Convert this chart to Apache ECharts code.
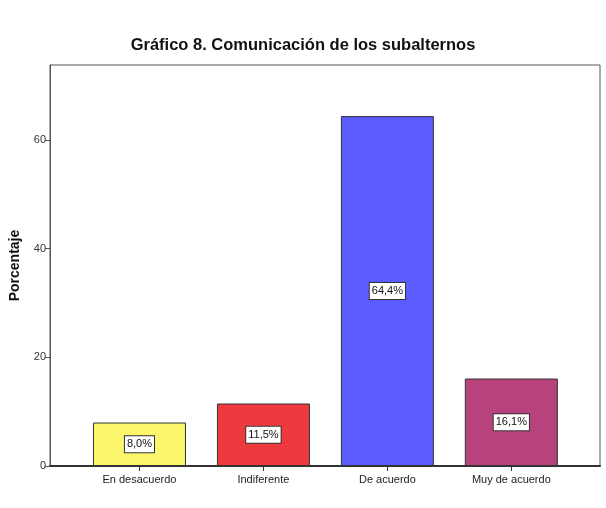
<!DOCTYPE html>
<html>
<head>
<meta charset="utf-8">
<script src="https://cdn.jsdelivr.net/npm/echarts@6/dist/echarts.min.js"></script>
<style>html,body{margin:0;padding:0;background:#fff}#c{width:606px;height:508px}</style>
</head>
<body>
<div id="c"></div>
<script>
const categories = ['En desacuerdo', 'Indiferente', 'De acuerdo', 'Muy de acuerdo'];
const values = [8.0, 11.5, 64.4, 16.1];
const barColors = ['#fbf66c', '#ee3a3f', '#5a5cff', '#b8427c'];
const yTicks = [0, 20, 40, 60];
const yMax = 73.8;

const chart = echarts.init(document.getElementById('c'), null, {renderer: 'canvas'});
chart.setOption({
  animation: false,
  backgroundColor: '#fff',
  title: {
    text: 'Gráfico 8. Comunicación de los subalternos',
    left: 'center', top: 32,
    textStyle: {fontFamily: 'Liberation Sans, Arial', fontWeight: 'bold', fontSize: 16.5, color: '#111'}
  },
  grid: [
    {left: 50, right: 6, top: 65, bottom: 42, outerBoundsMode: 'none', containLabel: false,
     show: true, borderColor: '#555', borderWidth: 1, backgroundColor: 'transparent'},
    {left: 77.5, right: 32.7, top: 65, bottom: 42, outerBoundsMode: 'none', containLabel: false}
  ],
  xAxis: [
    {gridIndex: 0, type: 'value', min: 0, max: 1, axisLabel: {show: false}, axisTick: {show: false}, splitLine: {show: false},
     axisLine: {show: true, lineStyle: {color: '#333', width: 2}}},
    {gridIndex: 1, type: 'category', data: categories,
     axisLine: {show: false},
     axisTick: {show: true, alignWithLabel: true, length: 5, lineStyle: {color: '#333'}},
     axisLabel: {fontFamily: 'Liberation Sans, Arial', fontSize: 11, color: '#222', margin: 8}}
  ],
  yAxis: [
    {gridIndex: 0, type: 'value', min: 0, max: yMax,
     name: 'Porcentaje', nameLocation: 'middle', nameGap: 28,
     nameTextStyle: {fontFamily: 'Liberation Sans, Arial', fontWeight: 'bold', fontSize: 14, color: '#111'},
     axisLine: {show: true, lineStyle: {color: '#555'}},
     axisTick: {show: true, length: 5, customValues: yTicks, lineStyle: {color: '#555'}},
     axisLabel: {fontFamily: 'Liberation Sans, Arial', fontSize: 11, color: '#333', margin: 4, customValues: yTicks},
     splitLine: {show: false}},
    {gridIndex: 1, type: 'value', min: 0, max: yMax, show: false, splitLine: {show: false}}
  ],
  series: [{
    type: 'bar', xAxisIndex: 1, yAxisIndex: 1,
    barWidth: 93,
    data: values.map((v, i) => ({value: v, itemStyle: {color: barColors[i]}})),
    itemStyle: {borderColor: '#333', borderWidth: 1},
    label: {
      show: true, position: 'inside',
      formatter: p => p.value.toFixed(1).replace('.', ',') + '%',
      fontFamily: 'Liberation Sans, Arial', fontSize: 11, color: '#111',
      backgroundColor: '#fff', borderColor: '#333', borderWidth: 1, padding: [3, 2, 2, 2]
    }
  }]
});
</script>
</body>
</html>
